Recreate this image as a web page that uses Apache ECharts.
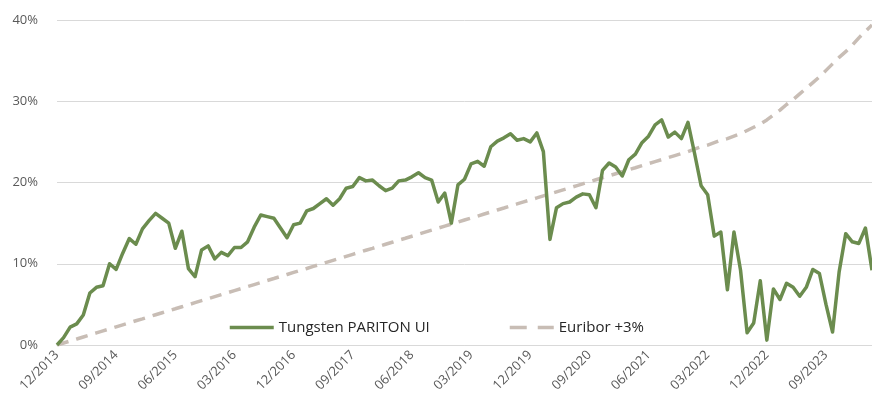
<!DOCTYPE html>
<html>
<head>
<meta charset="utf-8">
<script src="https://cdn.jsdelivr.net/npm/echarts@6/dist/echarts.min.js"></script>
<style>
html,body{margin:0;padding:0;background:#fff;}
#chart{width:872px;height:409px;}
</style>
</head>
<body>
<div id="chart"></div>
<script>
// Monthly categories 12/2013 .. 04/2024
var startYear = 2013, startMonth = 12, monthCount = 125;
var categories = [];
for (var k = 0; k < monthCount; k++) {
  var m = (startMonth - 1 + k) % 12 + 1;
  var y = startYear + Math.floor((startMonth - 1 + k) / 12);
  categories.push((m < 10 ? '0' : '') + m + '/' + y);
}

var seriesNames = ['Tungsten PARITON UI', 'Euribor +3%'];

// Tungsten PARITON UI cumulative performance (%)
var tungsten = [
  0.0, 0.9, 2.2, 2.6, 3.7, 6.4, 7.1, 7.3, 10.0, 9.3,
  11.3, 13.1, 12.4, 14.3, 15.3, 16.2, 15.6, 15.0, 11.9, 14.0,
  9.4, 8.4, 11.7, 12.2, 10.6, 11.4, 11.0, 12.0, 12.0, 12.7,
  14.5, 16.0, 15.8, 15.6, 14.4, 13.2, 14.8, 15.0, 16.5, 16.8,
  17.4, 18.0, 17.2, 18.0, 19.3, 19.5, 20.6, 20.2, 20.3, 19.6,
  19.0, 19.3, 20.2, 20.3, 20.7, 21.2, 20.6, 20.3, 17.6, 18.7,
  15.0, 19.7, 20.4, 22.3, 22.6, 22.0, 24.4, 25.1, 25.5, 26.0,
  25.2, 25.4, 25.0, 26.1, 23.8, 13.0, 16.9, 17.4, 17.6, 18.2,
  18.6, 18.5, 16.9, 21.5, 22.4, 21.9, 20.8, 22.8, 23.5, 24.9,
  25.7, 27.1, 27.7, 25.6, 26.2, 25.4, 27.4, 23.6, 19.6, 18.5,
  13.4, 13.9, 6.8, 13.9, 9.2, 1.5, 2.7, 7.9, 0.6, 6.9,
  5.6, 7.6, 7.1, 6.0, 7.1, 9.3, 8.8, 5.0, 1.6, 9.0,
  13.7, 12.7, 12.5, 14.4, 9.2
];

// Euribor +3% cumulative (%)
var euribor = [
  0.00, 0.25, 0.50, 0.74, 0.99, 1.24, 1.49, 1.74, 1.98, 2.23,
  2.48, 2.73, 2.98, 3.22, 3.47, 3.72, 3.97, 4.22, 4.46, 4.71,
  4.96, 5.21, 5.46, 5.70, 5.95, 6.20, 6.45, 6.70, 6.94, 7.19,
  7.44, 7.69, 7.94, 8.18, 8.43, 8.68, 8.93, 9.18, 9.42, 9.67,
  9.92, 10.17, 10.42, 10.66, 10.91, 11.16, 11.41, 11.66, 11.90, 12.15,
  12.40, 12.65, 12.90, 13.14, 13.39, 13.64, 13.89, 14.14, 14.38, 14.63,
  14.88, 15.13, 15.38, 15.62, 15.87, 16.12, 16.37, 16.62, 16.86, 17.11,
  17.36, 17.61, 17.86, 18.10, 18.35, 18.60, 18.85, 19.10, 19.34, 19.59,
  19.84, 20.09, 20.34, 20.58, 20.83, 21.08, 21.33, 21.58, 21.82, 22.07,
  22.32, 22.57, 22.82, 23.06, 23.31, 23.56, 23.80, 24.10, 24.40, 24.60,
  24.90, 25.20, 25.40, 25.70, 26.00, 26.40, 26.80, 27.20, 27.70, 28.30,
  28.90, 29.60, 30.20, 30.90, 31.60, 32.30, 33.00, 33.80, 34.60, 35.40,
  36.10, 36.90, 37.80, 38.60, 39.40
];

var yTicks = [0, 10, 20, 30, 40];

var green = '#6B8C4E';
var beige = '#C8BDB5';
var textColor = '#595959';
var font = '"Open Sans", "Noto Sans", sans-serif';

var legendBase = {
  top: 320, padding: 0,
  itemWidth: 44, itemHeight: 12, itemGap: 8,
  itemStyle: {opacity: 0},
  textStyle: {color: '#262626', fontSize: 15, fontFamily: font}
};

var chart = echarts.init(document.getElementById('chart'), null, {renderer: 'canvas'});
chart.setOption({
  animation: false,
  backgroundColor: '#ffffff',
  grid: {left: 57, right: 0, top: 20, bottom: 64, containLabel: false},
  legend: [
    Object.assign({}, legendBase, {data: [seriesNames[0]], left: 228,
      lineStyle: {width: 3.5}}),
    Object.assign({}, legendBase, {data: [seriesNames[1]], left: 508,
      lineStyle: {width: 3.5, type: [17, 11]}})
  ],
  xAxis: {
    type: 'category',
    data: categories,
    boundaryGap: false,
    axisLine: {show: true, lineStyle: {color: '#d9d9d9', width: 1}},
    axisTick: {show: false},
    axisLabel: {
      interval: 8, rotate: 45, margin: 8,
      color: textColor, fontSize: 13, fontFamily: font
    },
    splitLine: {show: false}
  },
  yAxis: {
    type: 'value',
    min: yTicks[0], max: yTicks[yTicks.length - 1], interval: 10,
    axisLine: {show: false},
    axisTick: {show: false},
    axisLabel: {
      formatter: '{value}%', margin: 19,
      color: textColor, fontSize: 13, fontFamily: font
    },
    splitLine: {show: true, lineStyle: {color: '#d9d9d9', width: 1}}
  },
  series: [{
    name: seriesNames[1],
    type: 'line',
    data: euribor,
    showSymbol: false, symbol: 'none',
    lineStyle: {color: beige, width: 3.5, type: [12, 8], cap: 'butt'},
    itemStyle: {color: beige},
    z: 2
  }, {
    name: seriesNames[0],
    type: 'line',
    data: tungsten,
    showSymbol: false, symbol: 'none',
    lineStyle: {color: green, width: 3.5, join: 'round'},
    itemStyle: {color: green},
    z: 3
  }]
});
</script>
</body>
</html>
